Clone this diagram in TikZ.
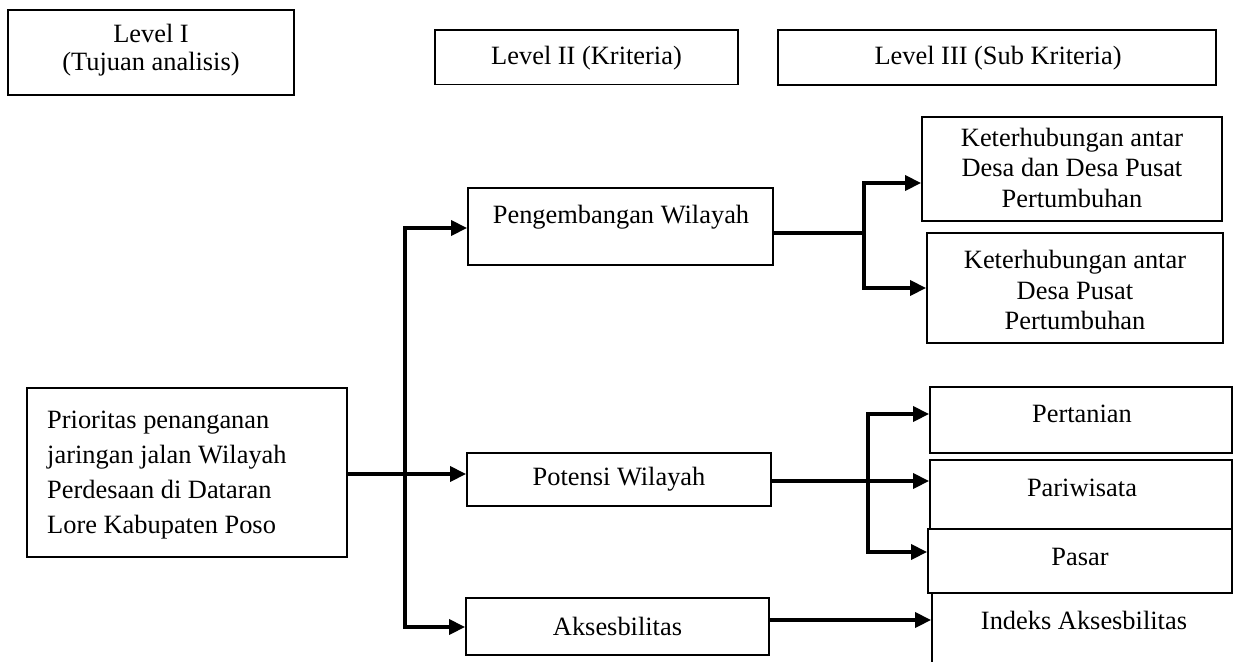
\documentclass[tikz,border=0pt]{standalone}
\usepackage{fontspec}
\setmainfont{Liberation Serif}
\usetikzlibrary{arrows.meta}
\begin{document}
\begin{tikzpicture}[x=1pt,y=-1pt,
  box/.style={draw, line width=1.8pt, inner sep=0pt, fill=white},
  txt/.style={font=\fontsize{26.4}{30.5}\selectfont, align=center, inner sep=0pt},
  conn/.style={line width=3.4pt},
  arr/.style={conn, -{Triangle[length=16pt,width=15pt]}}]
\useasboundingbox (0,0) rectangle (1233,661);
\clip (0,0) rectangle (1233,661);
% header boxes
\node[box, minimum width=286pt, minimum height=85pt] (lvl1) at (151,52.5) {};
\node[txt, font=\fontsize{26.4}{28}\selectfont] (tlvl1) at (151,50) {Level I\\(Tujuan analisis)};
\node[box, minimum width=303pt, minimum height=54.5pt] (lvl2) at (586.5,57.25) {};
\node[txt] (tlvl2) at (586.5,58) {Level II (Kriteria)};
\node[box, minimum width=438pt, minimum height=55pt] (lvl3) at (997,57.5) {};
\node[txt] (tlvl3) at (998,58) {Level III (Sub Kriteria)};
% goal
\node[box, minimum width=320pt, minimum height=169pt] (goal) at (187,472.5) {};
\node[txt, anchor=west, align=left, font=\fontsize{26.4}{35}\selectfont] (tgoal) at (47,475.5)
  {Prioritas penanganan\\jaringan jalan Wilayah\\Perdesaan di Dataran\\Lore Kabupaten Poso};
% criteria
\node[box, minimum width=305pt, minimum height=77pt] (pw) at (620.5,226.5) {};
\node[txt] (tpw) at (621,217) {Pengembangan Wilayah};
\node[box, minimum width=304pt, minimum height=53pt] (pot) at (619,479.5) {};
\node[txt] (tpot) at (619,479) {Potensi Wilayah};
\node[box, minimum width=303pt, minimum height=57pt] (aks) at (617.5,626.5) {};
\node[txt] (taks) at (617.5,626) {Aksesbilitas};
% sub criteria
\node[box, minimum width=300pt, minimum height=104pt] (k1) at (1072,169) {};
\node[txt] (tk1) at (1072,167.5) {Keterhubungan antar\\Desa dan Desa Pusat\\Pertumbuhan};
\node[box, minimum width=296pt, minimum height=110pt] (k2) at (1075,288) {};
\node[txt] (tk2) at (1075,290) {Keterhubungan antar\\Desa Pusat\\Pertumbuhan};
\node[box, minimum width=302pt, minimum height=66pt] (per) at (1081,420) {};
\node[txt] (tper) at (1082,414) {Pertanian};
\node[box, minimum width=302pt, minimum height=69pt] (par) at (1081,494.5) {};
\node[txt] (tpar) at (1082,488) {Pariwisata};
\node[box, minimum width=304pt, minimum height=64pt] (pas) at (1080,561) {};
\node[txt] (tpas) at (1080,557) {Pasar};
\node[box, minimum width=336pt, minimum height=94pt] (ind) at (1100,640) {};
\node[txt] (tind) at (1084,620) {Indeks Aksesbilitas};
% junction coordinates
\coordinate (ja) at (405,474);
\coordinate (jtop) at (405,228);
\coordinate (jbot) at (405,627);
\coordinate (jb) at (864,233);
\coordinate (jb1) at (864,183);
\coordinate (jb2) at (864,288);
\coordinate (jc) at (868,481);
\coordinate (jc1) at (868,414);
\coordinate (jc2) at (868,552);
\coordinate (ay) at (0,620);
% connectors level I -> II
\draw[conn] (goal.east |- ja) -- (ja);
\draw[arr] (jbot) -- (jtop) -- (pw.west |- jtop);
\draw[arr] (jtop) -- (jbot) -- (aks.west |- jbot);
\draw[arr] (ja) -- (pot.west |- ja);
% Pengembangan
\draw[conn] (pw.east |- jb) -- (jb);
\draw[arr] (jb2) -- (jb1) -- (k1.west |- jb1);
\draw[arr] (jb1) -- (jb2) -- (k2.west |- jb2);
% Potensi
\draw[arr] (pot.east |- jc) -- (par.west |- jc);
\draw[arr] (jc2) -- (jc1) -- (per.west |- jc1);
\draw[arr] (jc1) -- (jc2) -- (pas.west |- jc2);
% Aksesbilitas
\draw[arr] (aks.east |- ay) -- (ind.west |- ay);
\end{tikzpicture}
\end{document}
